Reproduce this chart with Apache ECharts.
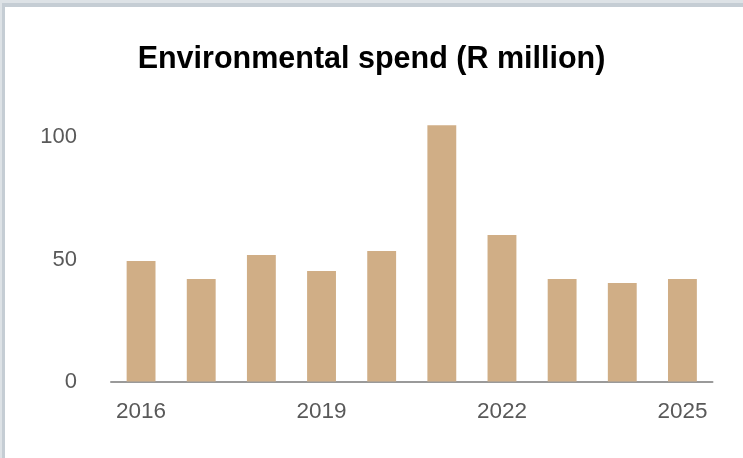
<!DOCTYPE html>
<html>
<head>
<meta charset="utf-8">
<script src="https://cdn.jsdelivr.net/npm/echarts@6/dist/echarts.min.js"></script>
<style>
  html, body { margin: 0; padding: 0; background: #fff; }
  #chart { position: absolute; left: 0; top: 0; width: 743px; height: 458px; }
  /* frame edge seen at the top and left of the picture */
  .edge-top { position: absolute; left: 0; top: 0; width: 743px; height: 3px; background: #dde2e6; }
  .edge-top2 { position: absolute; left: 2px; top: 3px; width: 741px; height: 4px; background: #c5cdd4; }
  .edge-left { position: absolute; left: 0; top: 0; width: 2px; height: 458px; background: #dde2e6; }
  .edge-left2 { position: absolute; left: 2px; top: 3px; width: 3px; height: 455px; background: #c5cdd4; }
</style>
</head>
<body>
<div id="chart"></div>
<div class="edge-top"></div>
<div class="edge-top2"></div>
<div class="edge-left"></div>
<div class="edge-left2"></div>
<script>
// years on the x axis
const years = ['2016', '2017', '2018', '2019', '2020', '2021', '2022', '2023', '2024', '2025'];
// environmental spend, R million
const spend = [49.4, 42, 51.8, 45.3, 53.5, 105, 60, 42, 40.4, 42];
// y axis ticks
const yTicks = [0, 50, 100];

const chart = echarts.init(document.getElementById('chart'));

const option = {
  animation: false,
  backgroundColor: '#fff',
  title: {
    text: 'Environmental spend (R million)',
    left: 'center',
    top: 39,
    textStyle: {
      fontFamily: 'Liberation Sans, Arial, sans-serif',
      fontWeight: 'bold',
      fontSize: 30.5,
      color: '#000'
    }
  },
  grid: {
    left: 111,
    right: 30.5,
    top: 113,
    bottom: 76.5
  },
  xAxis: {
    type: 'category',
    data: years,
    axisLine: { lineStyle: { color: '#9a9a9a', width: 2 } },
    axisTick: { show: false },
    axisLabel: {
      interval: 2,
      margin: 19,
      fontFamily: 'Liberation Sans, Arial, sans-serif',
      fontSize: 22.5,
      color: '#595959'
    }
  },
  yAxis: {
    type: 'value',
    min: yTicks[0],
    max: 110,
    interval: 50,
    splitLine: { show: false },
    axisLine: { show: false },
    axisTick: { show: false },
    axisLabel: {
      showMaxLabel: false,
      margin: 34,
      fontFamily: 'Liberation Sans, Arial, sans-serif',
      fontSize: 22,
      color: '#595959'
    }
  },
  series: [{
    type: 'bar',
    data: spend,
    barWidth: '48%',
    itemStyle: { color: '#d0ae86' }
  }]
};

chart.setOption(option);
</script>
</body>
</html>
